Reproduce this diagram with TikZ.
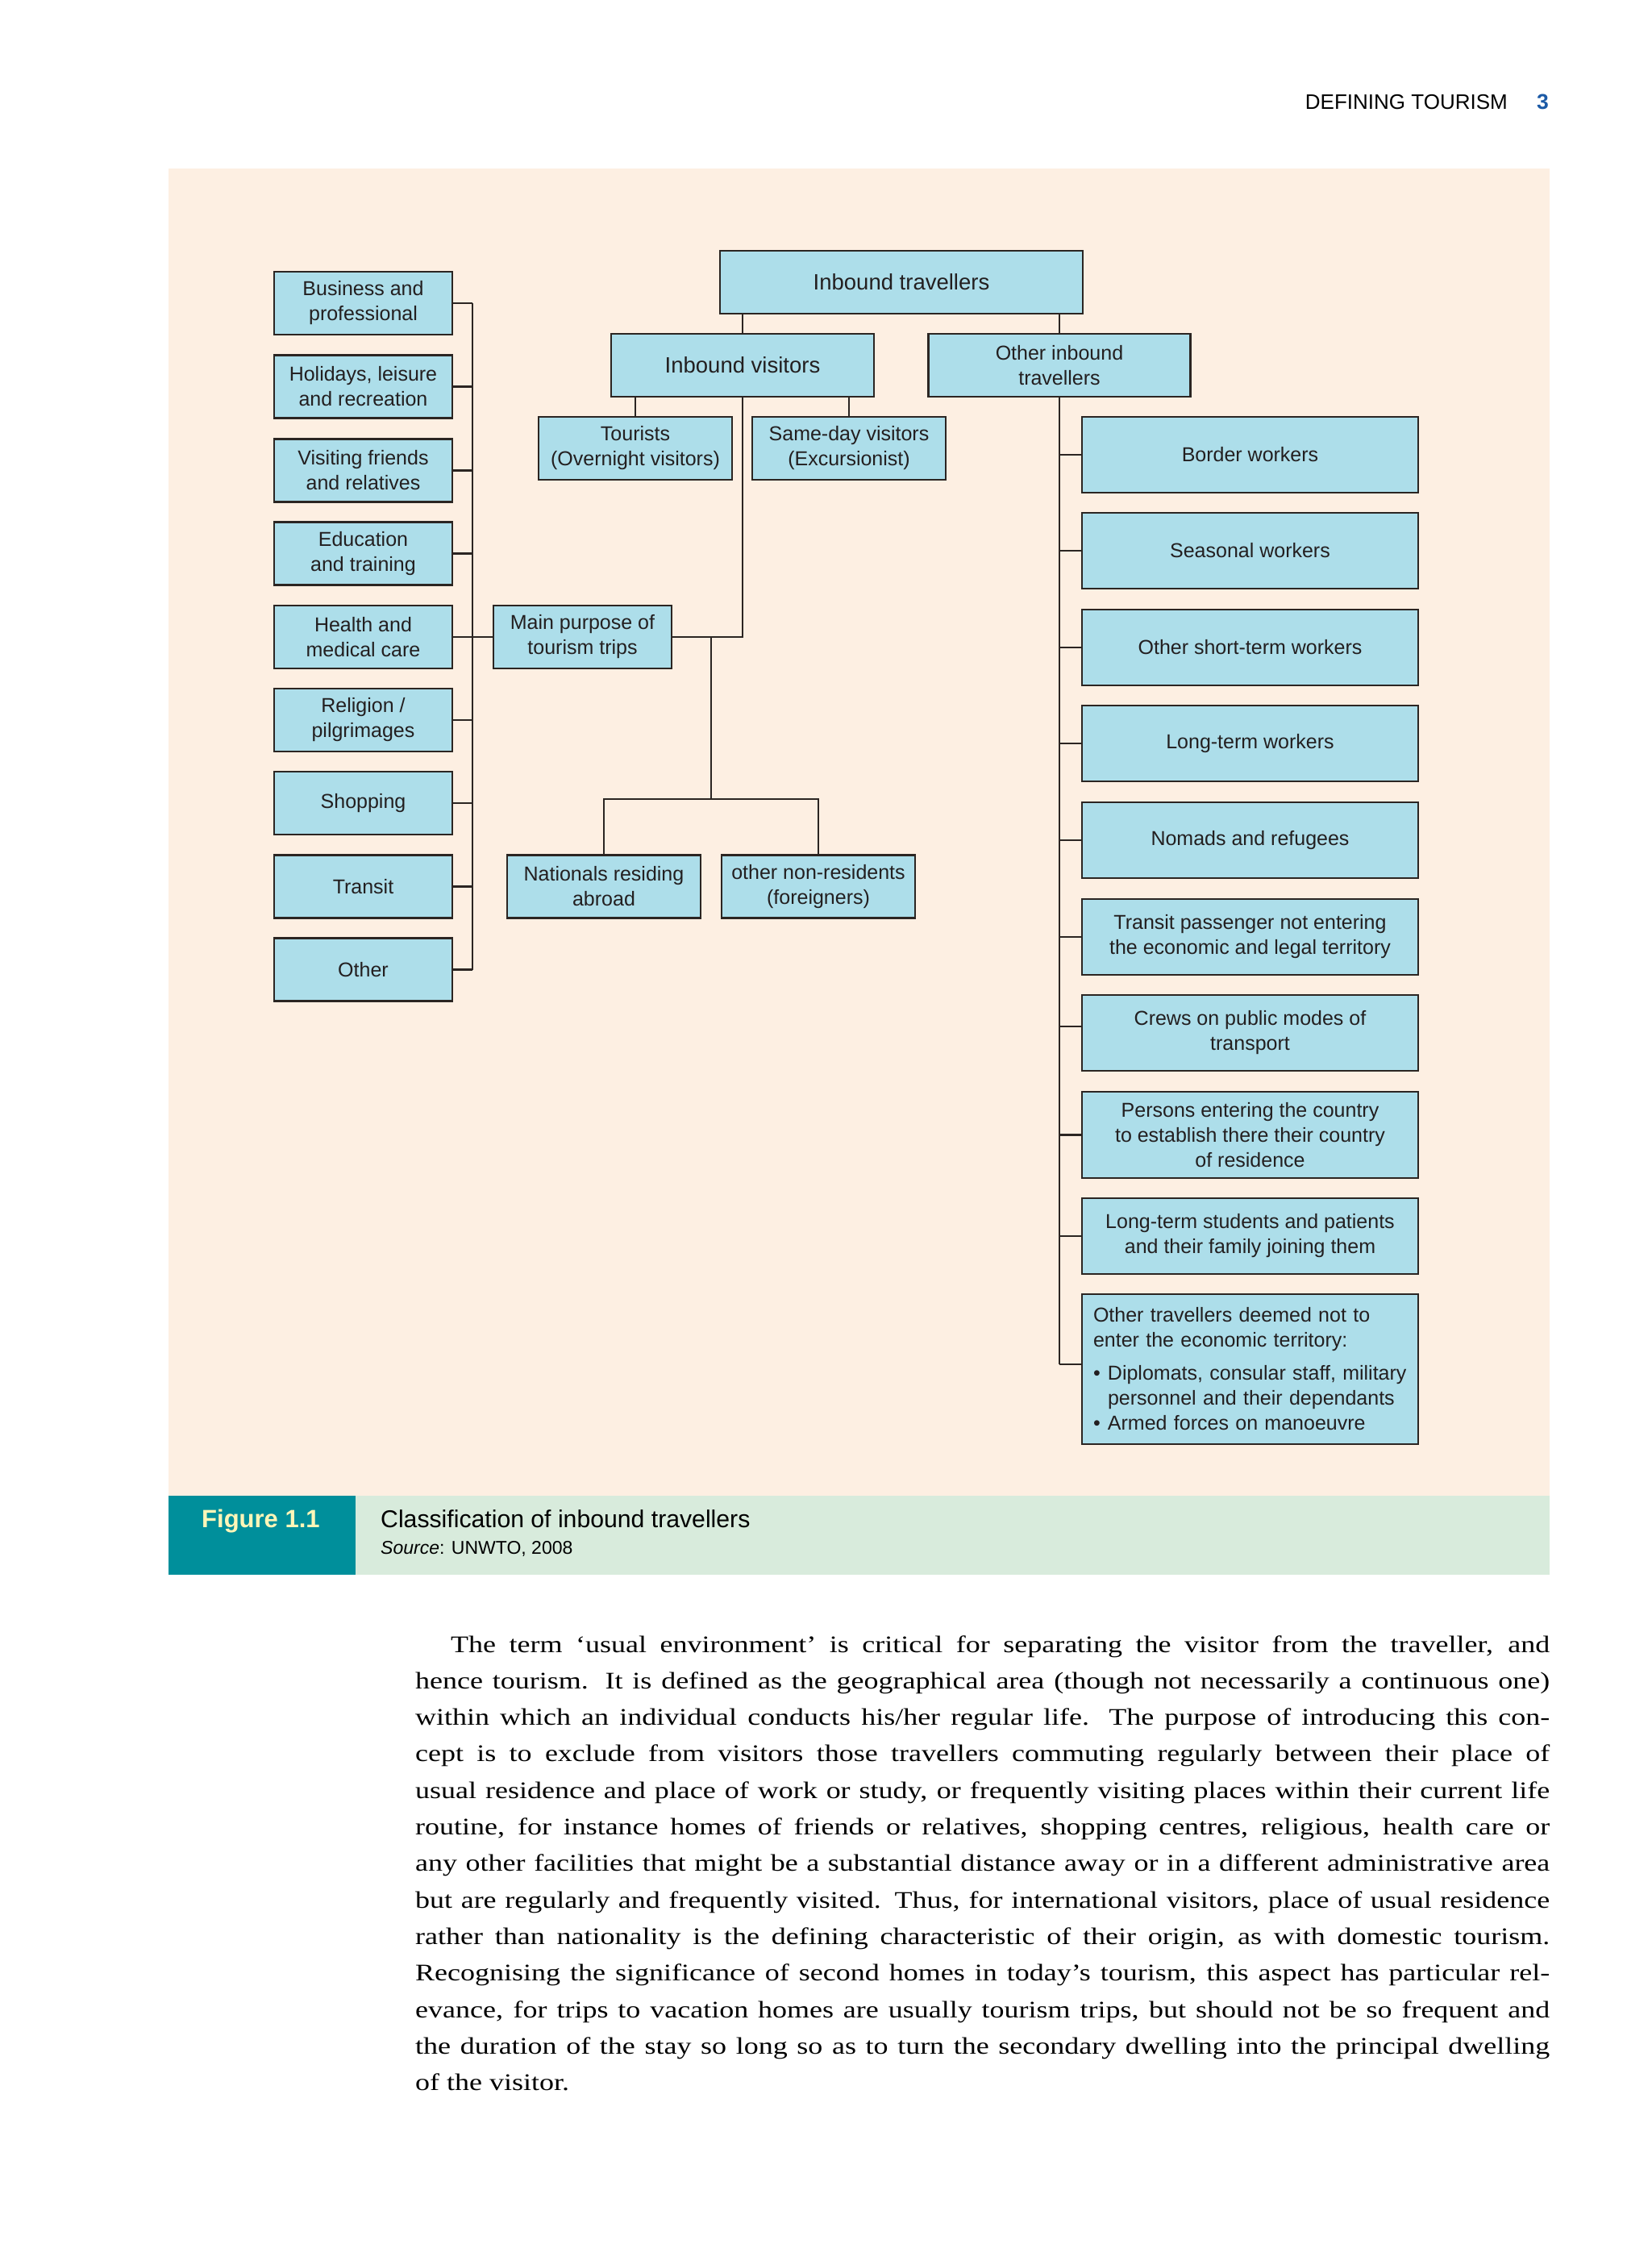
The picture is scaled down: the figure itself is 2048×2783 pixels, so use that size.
\documentclass[tikz,border=0pt]{standalone}
\usepackage{fontspec}
\setmainfont{Liberation Sans}
\newfontfamily\bodyserif[FakeStretch=1.22]{Liberation Serif}
\definecolor{peach}{RGB}{253,239,226}
\definecolor{boxblue}{RGB}{173,222,234}
\definecolor{tealc}{RGB}{0,143,155}
\definecolor{capgreen}{RGB}{216,235,220}
\definecolor{figyellow}{RGB}{255,246,184}
\definecolor{linec}{RGB}{43,37,34}
\definecolor{textc}{RGB}{35,31,32}
\definecolor{pgblue}{RGB}{28,90,166}
\tikzset{
  bx/.style={draw=linec, line width=2.4pt, fill=boxblue, align=center, inner sep=0pt, text=textc,
    font=\fontsize{25}{31}\selectfont},
  lbox/.style={bx, minimum width=221pt, minimum height=78pt},
  sbox/.style={bx, minimum width=240pt, minimum height=78pt},
  rbox/.style={bx, minimum width=417pt, minimum height=94pt},
  conn/.style={draw=linec, line width=2.2pt},
  txt/.style={inner sep=0pt, anchor=base west},
  bodyline/.style={txt, font=\bodyserif\fontsize{29.5}{45}\selectfont, text=black}
}
\begin{document}
\begin{tikzpicture}[x=1pt,y=-1pt]
\useasboundingbox (0,0) rectangle (2048,2783);
\fill[white] (0,0) rectangle (2048,2783);
\fill[peach] (209,209) rectangle (1922,1855);
\fill[tealc] (209,1855) rectangle (441,1953);
\fill[capgreen] (441,1855) rectangle (1922,1953);

% header
\node[inner sep=0pt, anchor=base east, font=\fontsize{26}{30}\selectfont] (hd) at (1870,136) {DEFINING TOURISM};
\node[txt, font=\bfseries\fontsize{26.5}{30}\selectfont, text=pgblue] (pg) at (1906,136) {3};

% left column
\node[lbox] (biz) at (450.5,376)   {Business and\\professional};
\node[lbox] (hol) at (450.5,479.5) {Holidays, leisure\\and recreation};
\node[lbox] (vis) at (450.5,583.5) {Visiting friends\\and relatives};
\node[lbox] (edu) at (450.5,686.5) {Education\\and training};
\node[lbox] (hea) at (450.5,790)   {Health and\\medical care};
\node[lbox] (rel) at (450.5,893)   {Religion /\\pilgrimages};
\node[lbox] (sho) at (450.5,996)   {Shopping};
\node[lbox] (tra) at (450.5,1099.5){Transit};
\node[lbox] (oth) at (450.5,1202.5){Other};

\node[lbox] (mp) at (722.5,790) {Main purpose of\\tourism trips};

% top
\node[bx, minimum width=450pt, minimum height=78pt, font=\fontsize{27.5}{31}\selectfont] (it) at (1118,350) {Inbound travellers};
\node[bx, minimum width=326pt, minimum height=78pt, font=\fontsize{27.5}{31}\selectfont] (iv) at (921,453) {Inbound visitors};
\node[bx, minimum width=325pt, minimum height=78pt] (oi) at (1314,453) {Other inbound\\travellers};
\node[sbox] (tou) at (788,556) {Tourists\\(Overnight visitors)};
\node[sbox] (sdv) at (1053,556) {Same-day visitors\\(Excursionist)};
\node[sbox] (nat) at (749,1099.5) {Nationals residing\\abroad};
\node[sbox] (onr) at (1015,1099.5) {other non-residents\\(foreigners)};

% right column
\node[rbox] (bw)   at (1550.5,564)  {Border workers};
\node[rbox] (sw)   at (1550.5,683)  {Seasonal workers};
\node[rbox] (ost)  at (1550.5,803)  {Other short-term workers};
\node[rbox] (ltw)  at (1550.5,922)  {Long-term workers};
\node[rbox] (nr)   at (1550.5,1042) {Nomads and refugees};
\node[rbox] (tp)   at (1550.5,1162) {Transit passenger not entering\\the economic and legal territory};
\node[rbox] (crew) at (1550.5,1281) {Crews on public modes of\\transport};
\node[rbox, minimum height=107pt] (pers) at (1550.5,1407.5) {Persons entering the country\\to establish there their country\\of residence};
\node[rbox] (lts)  at (1550.5,1533) {Long-term students and patients\\and their family joining them};
\node[bx, align=left, text width=389pt, inner xsep=14pt, inner ysep=0pt, minimum height=186pt] (otr) at (1550.5,1698)
  {Other travellers deemed not to\\
   enter the economic territory:\\[10pt]
   \makebox[18pt][l]{•}Diplomats, consular staff, military\\
   \hspace*{18pt}personnel and their dependants\\
   \makebox[18pt][l]{•}Armed forces on manoeuvre};

% connectors: top tree
\draw[conn] (iv.north) -- (iv.north |- it.south);
\draw[conn] (oi.north) -- (oi.north |- it.south);
\draw[conn] (tou.north) -- (tou.north |- iv.south);
\draw[conn] (sdv.north) -- (sdv.north |- iv.south);
\draw[conn] (iv.south) |- (mp.east);
\coordinate (j1) at (882,790);
\coordinate (j2) at (882,991);
\draw[conn] (j1) -- (j2);
\draw[conn] (nat.north) |- (j2) -| (onr.north);

% left bus
\coordinate (bt) at (586,376);
\coordinate (bb) at (586,1202.5);
\draw[conn] (bt) -- (bb);
\foreach \n in {biz,hol,vis,edu,hea,rel,sho,tra,oth}
  \draw[conn] (\n.east) -- (\n.east -| bt);
\draw[conn] (hea.east -| bt) -- (mp.west);

% right bus
\coordinate (rb) at (1314,1692);
\coordinate (cr) at (1314,1273);
\draw[conn] (oi.south) -- (rb);
\foreach \n in {bw,sw,ost,ltw,nr,tp,pers,lts}
  \draw[conn] (\n.west) -- (\n.west -| rb);
\draw[conn] (crew.west |- cr) -- (cr);
\draw[conn] (otr.west |- rb) -- (rb);

% caption
\node[txt, text=figyellow, font=\bfseries\fontsize{31}{34}\selectfont] (fig) at (250,1894) {Figure 1.1};
\node[txt, text=black, font=\fontsize{30.2}{34}\selectfont] (cap) at (472,1894) {Classification of inbound travellers};
\node[txt, text=black, font=\fontsize{23}{28}\selectfont] (src) at (472,1927) {\textit{Source}: UNWTO, 2008};

% body text
\node[bodyline] (l1) at (559,2049) {\makebox[1363pt][s]{The term ‘usual environment’ is critical for separating the visitor from the traveller, and}};
\node[bodyline] (l2) at (515,2094.3) {\makebox[1407pt][s]{hence tourism. It is defined as the geographical area (though not necessarily a continuous one)}};
\node[bodyline] (l3) at (515,2139.6) {\makebox[1407pt][s]{within which an individual conducts his/her regular life. The purpose of introducing this con-}};
\node[bodyline] (l4) at (515,2184.9) {\makebox[1407pt][s]{cept is to exclude from visitors those travellers commuting regularly between their place of}};
\node[bodyline] (l5) at (515,2230.2) {\makebox[1407pt][s]{usual residence and place of work or study, or frequently visiting places within their current life}};
\node[bodyline] (l6) at (515,2275.5) {\makebox[1407pt][s]{routine, for instance homes of friends or relatives, shopping centres, religious, health care or}};
\node[bodyline] (l7) at (515,2320.8) {\makebox[1407pt][s]{any other facilities that might be a substantial distance away or in a different administrative area}};
\node[bodyline] (l8) at (515,2366.1) {\makebox[1407pt][s]{but are regularly and frequently visited. Thus, for international visitors, place of usual residence}};
\node[bodyline] (l9) at (515,2411.4) {\makebox[1407pt][s]{rather than nationality is the defining characteristic of their origin, as with domestic tourism.}};
\node[bodyline] (l10) at (515,2456.7) {\makebox[1407pt][s]{Recognising the significance of second homes in today’s tourism, this aspect has particular rel-}};
\node[bodyline] (l11) at (515,2502) {\makebox[1407pt][s]{evance, for trips to vacation homes are usually tourism trips, but should not be so frequent and}};
\node[bodyline] (l12) at (515,2547.3) {\makebox[1407pt][s]{the duration of the stay so long so as to turn the secondary dwelling into the principal dwelling}};
\node[bodyline] (l13) at (515,2592.6) {of the visitor.};
\end{tikzpicture}
\end{document}
